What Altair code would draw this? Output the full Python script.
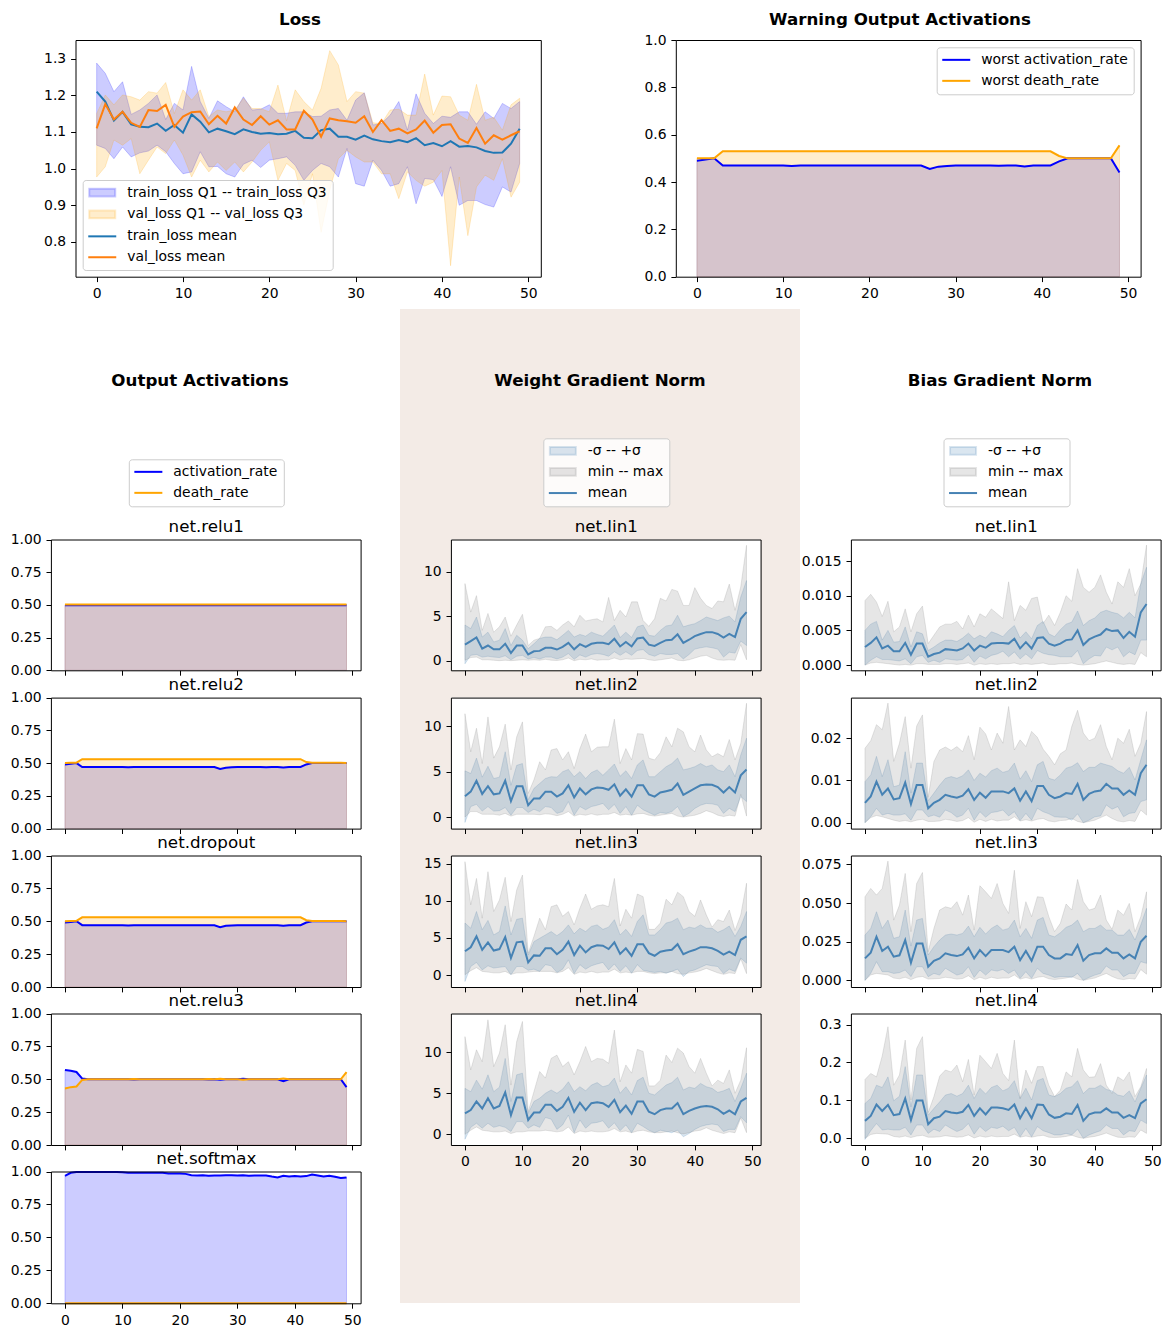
import altair as alt
import pandas as pd

W, H = 1170, 1337
FONT = "DejaVu Sans"
EPOCHS = list(range(50))
XDOM = [-2.45, 51.45]
XTICKS = [0, 10, 20, 30, 40, 50]
BEIGE = "#f3ebe6"
SB = "#4682b4"
LINE_PATH = "M-2.8,0H2.8"
RECT_PATH = "M-2.6,-0.78H2.6V0.78H-2.6Z"

# ---------------- Loss ----------------
train_mean = [1.210,1.183,1.131,1.155,1.121,1.114,1.113,1.123,1.103,1.119,
              1.098,1.148,1.128,1.099,1.109,1.102,1.094,1.107,1.100,1.095,
              1.097,1.094,1.095,1.103,1.084,1.083,1.105,1.109,1.087,1.087,
              1.079,1.090,1.080,1.075,1.072,1.078,1.072,1.083,1.064,1.070,
              1.061,1.075,1.060,1.062,1.058,1.048,1.043,1.044,1.068,1.109]
val_mean = [1.110,1.176,1.134,1.155,1.125,1.114,1.160,1.157,1.174,1.114,
            1.142,1.154,1.156,1.121,1.144,1.123,1.167,1.134,1.119,1.143,
            1.120,1.132,1.107,1.107,1.158,1.134,1.087,1.137,1.132,1.129,
            1.125,1.143,1.100,1.132,1.103,1.109,1.096,1.107,1.131,1.098,
            1.119,1.121,1.082,1.070,1.111,1.068,1.091,1.079,1.091,1.102]
train_q3 = [1.288,1.260,1.210,1.237,1.148,1.160,1.178,1.201,1.134,1.178,
            1.160,1.279,1.183,1.137,1.185,1.169,1.155,1.196,1.160,1.162,
            1.174,1.151,1.151,1.155,1.155,1.142,1.143,1.160,1.164,1.132,
            1.187,1.207,1.119,1.123,1.146,1.183,1.105,1.204,1.151,1.123,
            1.143,1.140,1.155,1.155,1.121,1.155,1.137,1.178,1.164,1.183]
train_q1 = [1.064,1.055,1.027,1.059,1.032,1.043,1.048,1.064,1.046,1.014,
            0.986,0.991,1.046,1.005,1.006,0.986,0.977,1.012,1.023,1.003,
            1.023,1.027,1.032,1.009,0.968,0.995,1.014,1.005,0.977,1.055,
            0.959,0.952,1.023,0.995,0.952,0.959,1.005,0.904,0.973,0.970,
            0.924,1.005,0.900,0.913,0.913,0.902,0.895,0.950,0.936,1.014]
val_q3 = [1.150,1.201,1.174,1.201,1.196,1.187,1.210,1.206,1.235,1.150,
          1.215,1.187,1.215,1.142,1.160,1.155,1.160,1.192,1.164,1.164,
          1.155,1.228,1.130,1.215,1.183,1.160,1.219,1.322,1.283,1.183,
          1.210,1.206,1.125,1.123,1.160,1.162,1.146,1.146,1.258,1.146,
          1.198,1.196,1.146,1.132,1.230,1.132,1.140,1.105,1.174,1.192]
val_q1 = [0.977,1.005,1.078,1.064,1.082,0.986,1.023,1.059,1.041,1.078,
          1.037,0.977,1.023,0.991,1.018,0.995,1.018,0.991,1.018,1.050,
          1.073,0.968,1.014,0.995,0.900,0.986,0.826,0.941,1.027,1.050,
          1.032,1.018,1.018,0.986,0.986,0.918,0.991,0.968,0.952,0.963,
          0.995,0.735,0.977,0.817,0.950,0.982,0.968,1.027,0.922,0.963]

# ---------------- Warning output activations ----------------
worst_act = [0.490,0.495,0.500,0.470,0.470,0.470,0.470,0.470,0.470,0.470,
             0.470,0.468,0.470,0.470,0.470,0.470,0.470,0.470,0.470,0.470,
             0.470,0.470,0.470,0.470,0.470,0.470,0.470,0.455,0.465,0.468,
             0.470,0.470,0.470,0.470,0.470,0.469,0.470,0.470,0.466,0.470,
             0.470,0.470,0.487,0.500,0.500,0.500,0.500,0.500,0.500,0.440]
worst_death = [0.500,0.500,0.500,0.530,0.530,0.530,0.530,0.530,0.530,0.530,
               0.530,0.530,0.530,0.530,0.530,0.530,0.530,0.530,0.530,0.530,
               0.530,0.530,0.530,0.530,0.530,0.530,0.530,0.530,0.530,0.530,
               0.530,0.530,0.530,0.530,0.530,0.530,0.530,0.530,0.530,0.530,
               0.530,0.530,0.510,0.500,0.500,0.500,0.500,0.500,0.500,0.555]

# ---------------- Output activations ----------------
relu1_act = [0.497,0.497,0.497,0.497,0.497,0.497,0.497,0.497,0.497,0.497,
             0.497,0.497,0.497,0.497,0.497,0.497,0.497,0.497,0.497,0.497,
             0.497,0.497,0.497,0.497,0.497,0.497,0.497,0.497,0.497,0.497,
             0.497,0.497,0.497,0.497,0.497,0.497,0.497,0.497,0.497,0.497,
             0.497,0.497,0.497,0.497,0.497,0.497,0.497,0.497,0.497,0.497]
relu1_death = [0.503,0.503,0.503,0.503,0.503,0.503,0.503,0.503,0.503,0.503,
               0.503,0.503,0.503,0.503,0.503,0.503,0.503,0.503,0.503,0.503,
               0.503,0.503,0.503,0.503,0.503,0.503,0.503,0.503,0.503,0.503,
               0.503,0.503,0.503,0.503,0.503,0.503,0.503,0.503,0.503,0.503,
               0.503,0.503,0.503,0.503,0.503,0.503,0.503,0.503,0.503,0.503]
relu2_act = [0.490,0.495,0.500,0.470,0.470,0.470,0.470,0.470,0.470,0.470,
             0.470,0.468,0.470,0.470,0.470,0.470,0.470,0.470,0.470,0.470,
             0.470,0.470,0.470,0.470,0.470,0.470,0.470,0.455,0.465,0.468,
             0.470,0.470,0.470,0.470,0.470,0.469,0.470,0.470,0.466,0.470,
             0.470,0.470,0.490,0.500,0.500,0.500,0.500,0.500,0.500,0.500]
relu2_death = [0.500,0.502,0.503,0.530,0.530,0.530,0.530,0.530,0.530,0.530,
               0.530,0.530,0.530,0.530,0.530,0.530,0.530,0.530,0.530,0.530,
               0.530,0.530,0.530,0.530,0.530,0.530,0.530,0.530,0.530,0.530,
               0.530,0.530,0.530,0.530,0.530,0.530,0.530,0.530,0.530,0.530,
               0.530,0.530,0.508,0.502,0.502,0.502,0.502,0.502,0.502,0.500]
dropout_act = [0.490,0.495,0.500,0.470,0.470,0.470,0.470,0.470,0.470,0.470,
               0.470,0.468,0.470,0.470,0.470,0.470,0.470,0.470,0.470,0.470,
               0.470,0.470,0.470,0.470,0.470,0.470,0.470,0.455,0.465,0.468,
               0.470,0.470,0.470,0.470,0.470,0.469,0.470,0.470,0.466,0.470,
               0.470,0.470,0.490,0.500,0.500,0.500,0.500,0.500,0.500,0.500]
dropout_death = [0.500,0.502,0.503,0.530,0.530,0.530,0.530,0.530,0.530,0.530,
                 0.530,0.530,0.530,0.530,0.530,0.530,0.530,0.530,0.530,0.530,
                 0.530,0.530,0.530,0.530,0.530,0.530,0.530,0.530,0.530,0.530,
                 0.530,0.530,0.530,0.530,0.530,0.530,0.530,0.530,0.530,0.530,
                 0.530,0.530,0.508,0.502,0.502,0.502,0.502,0.502,0.502,0.500]
relu3_act = [0.570,0.565,0.555,0.505,0.500,0.500,0.500,0.500,0.500,0.500,
             0.500,0.500,0.499,0.500,0.500,0.500,0.500,0.500,0.500,0.500,
             0.500,0.500,0.500,0.500,0.500,0.498,0.500,0.497,0.500,0.500,
             0.500,0.503,0.500,0.500,0.500,0.500,0.500,0.500,0.485,0.500,
             0.500,0.500,0.500,0.500,0.500,0.500,0.500,0.500,0.500,0.440]
relu3_death = [0.430,0.440,0.445,0.495,0.500,0.500,0.500,0.500,0.500,0.500,
               0.500,0.500,0.501,0.500,0.500,0.500,0.500,0.500,0.500,0.500,
               0.500,0.500,0.500,0.500,0.500,0.502,0.500,0.503,0.500,0.500,
               0.500,0.497,0.500,0.500,0.500,0.500,0.500,0.500,0.505,0.500,
               0.500,0.500,0.500,0.500,0.500,0.500,0.500,0.500,0.500,0.555]
softmax_act = [0.967,0.990,0.997,0.997,0.997,0.997,0.997,0.997,0.997,0.996,
               0.995,0.990,0.990,0.990,0.991,0.991,0.990,0.990,0.985,0.985,
               0.985,0.982,0.972,0.970,0.972,0.967,0.970,0.970,0.972,0.972,
               0.970,0.972,0.967,0.970,0.970,0.970,0.962,0.955,0.967,0.962,
               0.965,0.962,0.965,0.977,0.970,0.962,0.967,0.960,0.950,0.955]
softmax_death = [0.0,0.0,0.0,0.0,0.0,0.0,0.0,0.0,0.0,0.0,
                 0.0,0.0,0.0,0.0,0.0,0.0,0.0,0.0,0.0,0.0,
                 0.0,0.0,0.0,0.0,0.0,0.0,0.0,0.0,0.0,0.0,
                 0.0,0.0,0.0,0.0,0.0,0.0,0.0,0.0,0.0,0.0,
                 0.0,0.0,0.0,0.0,0.0,0.0,0.0,0.0,0.0,0.0]

# ---------------- Weight gradient norm ----------------
w1_mean = [1.8,2.2,2.6,1.35,1.7,1.27,1.27,1.9,0.86,1.7,
           1.7,0.7,1.05,1.1,1.45,1.45,1.25,1.55,2.0,1.27,
           1.85,1.55,1.9,2.0,2.0,1.85,2.45,1.6,2.1,1.6,
           2.5,2.6,1.8,1.65,2.0,2.3,2.35,2.95,2.0,2.35,
           2.75,3.0,3.2,3.2,3.0,2.6,3.0,2.65,4.7,5.45]
w1_hi = [4.0,3.6,4.9,2.65,3.2,2.1,2.3,3.6,1.7,2.85,
         2.3,1.35,1.9,2.5,2.65,2.65,2.35,2.85,3.4,2.65,
         2.95,2.75,3.2,2.95,2.75,3.35,4.0,2.6,3.2,2.6,
         3.8,4.0,2.85,2.75,3.4,3.9,4.0,5.1,3.8,4.0,
         4.15,4.5,4.9,4.7,4.5,4.8,5.0,4.35,7.15,9.0]
w1_lo = [-0.35,0.6,0.7,0.4,0.5,0.4,0.35,0.55,0.1,0.5,
         0.6,0.2,0.35,0.2,0.4,0.4,0.2,0.4,0.8,0.15,
         0.65,0.4,0.7,0.8,0.7,0.5,1.0,0.6,1.0,0.6,
         1.15,1.25,0.7,0.5,0.8,0.7,0.7,0.8,0.2,0.7,
         1.3,1.45,1.55,1.45,1.3,0.4,0.95,0.85,2.2,1.7]
w1_max = [8.65,5.45,7.3,3.4,5.3,3.2,3.8,4.9,2.75,4.0,
          5.2,1.7,2.3,2.5,3.8,3.85,3.4,4.0,4.45,3.8,
          5.1,4.45,4.6,4.7,4.35,7.1,4.5,5.65,4.9,6.6,
          6.6,4.5,3.85,4.7,7.0,6.7,8.0,7.8,6.2,6.2,
          8.2,7.0,6.2,5.85,6.7,6.6,8.6,5.65,8.3,12.95]
w1_min = [0.05,0.35,0.4,0.1,0.1,0.05,0.0,0.05,0.0,0.05,
          0.1,0.05,0.1,0.05,0.15,0.05,0.02,0.1,0.3,0.0,
          0.15,0.1,0.2,0.05,0.1,0.1,0.3,0.1,0.2,0.15,
          0.2,0.25,0.1,0.02,0.1,0.2,0.3,0.05,0.0,0.1,
          0.3,0.5,0.6,0.3,0.1,0.05,0.1,0.05,1.8,0.1]

w2_mean = [2.3,2.8,4.0,2.55,3.4,2.5,2.6,4.0,1.75,3.4,
           3.4,1.3,2.05,2.05,2.8,2.8,2.25,2.6,3.5,2.15,
           3.15,2.5,3.05,3.25,3.2,3.0,3.6,2.35,3.05,2.25,
           3.5,3.5,2.5,2.25,2.7,2.85,3.0,3.7,2.45,2.8,
           3.15,3.5,3.6,3.55,3.3,2.7,3.3,2.7,4.6,5.25]
w2_hi = [5.1,4.8,6.5,4.4,5.6,4.25,4.4,7.2,3.5,5.7,
         5.9,1.9,3.15,3.7,4.25,4.45,4.4,5.0,5.25,4.45,
         5.0,4.25,4.9,5.2,4.6,5.2,5.85,4.5,5.1,4.25,
         5.75,6.3,4.45,4.45,5.0,5.55,5.9,6.5,5.2,5.35,
         5.55,5.9,5.55,5.75,5.2,5.0,5.75,4.45,6.85,8.7]
w2_lo = [-0.6,1.15,1.4,0.65,1.15,0.65,0.7,1.05,0.2,1.05,
         1.05,0.5,0.85,0.6,1.15,1.05,0.4,0.6,1.7,0.2,
         1.15,0.8,1.15,1.3,1.5,0.8,1.4,0.4,1.15,0.2,
         1.3,0.8,0.5,0.2,0.5,0.4,0.6,1.15,0.05,0.4,
         0.95,1.3,1.5,1.45,1.3,0.4,0.95,0.6,2.25,1.7]
w2_max = [11.4,7.2,9.8,5.9,11.05,6.5,7.75,10.25,5.2,8.85,
          10.5,2.6,4.1,6.1,5.2,7.4,7.55,6.3,7.2,5.35,
          7.55,9.15,7.2,7.7,7.75,7.75,10.8,5.9,7.55,6.3,
          9.2,9.15,6.5,6.3,7.1,8.85,7.75,9.8,9.4,7.75,
          7.2,9.05,7.4,6.65,7.0,6.65,8.55,6.3,8.1,12.55]
w2_min = [0.0,0.6,0.6,0.3,0.3,0.3,0.2,0.4,0.1,0.3,
          0.3,0.3,0.3,0.25,0.35,0.3,0.15,0.3,0.6,0.1,
          0.3,0.2,0.35,0.2,0.3,0.3,0.5,0.2,0.3,0.2,
          0.35,0.4,0.2,0.1,0.2,0.3,0.4,0.1,0.0,0.1,
          0.2,0.4,0.7,0.5,0.2,0.05,0.2,0.1,2.5,0.1]

w3_mean = [3.2,3.75,5.2,3.4,4.4,3.3,3.5,5.1,2.3,4.4,
           4.5,1.7,2.65,2.6,3.6,3.6,2.8,3.4,4.5,2.7,
           3.95,3.05,3.75,4.0,3.95,3.5,4.4,2.85,3.6,2.6,
           4.15,4.15,2.95,2.6,3.15,3.3,3.4,4.15,2.8,3.15,
           3.4,3.75,3.75,3.6,3.25,2.75,3.15,2.7,4.75,5.2]
w3_hi = [7.0,6.3,8.55,6.1,7.35,5.4,5.85,9.3,5.4,7.5,
         7.65,2.7,4.5,4.95,5.4,5.85,5.3,5.85,6.75,5.55,
         6.3,5.85,6.55,6.75,6.15,6.45,7.45,5.4,6.15,5.2,
         7.2,8.1,5.4,5.4,6.1,7.0,7.2,7.65,6.1,6.45,
         6.3,6.75,6.3,6.3,5.75,6.1,6.6,5.2,6.55,8.55]
w3_lo = [-0.85,1.15,1.7,0.7,1.25,0.95,1.05,1.15,0.05,1.15,
         1.15,0.65,0.8,0.5,1.4,1.25,0.35,0.8,2.05,0.2,
         1.4,0.8,1.25,1.5,1.7,0.7,1.5,0.5,1.25,0.25,
         1.4,0.65,0.5,0.35,0.5,0.25,0.5,0.8,-0.2,0.5,
         0.7,1.05,1.4,1.25,1.15,0.2,0.8,0.5,2.3,1.6]
w3_max = [15.25,9.45,13.0,7.65,13.9,8.55,10.1,13.15,7.2,11.45,
          13.45,2.95,5.2,7.65,6.1,9.2,9.45,7.9,8.55,6.75,
          9.0,10.9,8.85,9.3,9.45,9.2,13.0,6.6,8.85,7.65,
          10.9,10.55,6.15,6.15,7.0,10.2,9.45,11.15,10.55,8.55,
          7.9,10.1,8.1,6.45,7.45,7.2,8.75,6.0,8.1,12.35]
w3_min = [0.05,0.6,1.0,0.5,0.4,0.3,0.3,0.5,0.1,0.3,
          0.3,0.4,0.5,0.5,0.5,0.5,0.3,0.5,1.0,0.1,
          0.4,0.3,0.5,0.3,0.4,0.4,0.8,0.3,0.4,0.3,
          0.5,0.5,0.3,0.2,0.3,0.3,0.5,0.2,0.1,0.3,
          0.4,0.6,0.9,0.6,0.3,0.1,0.3,0.2,2.2,0.2]

w4_mean = [2.55,2.95,4.0,3.15,4.4,3.15,3.45,5.1,2.35,4.5,
           4.5,1.75,2.65,2.65,3.6,3.6,2.85,3.35,4.45,2.75,
           3.85,2.95,3.8,3.9,3.8,3.35,4.2,2.7,3.5,2.5,
           4.0,4.0,2.75,2.45,2.95,3.15,3.15,3.8,2.45,2.85,
           3.15,3.35,3.45,3.35,3.05,2.5,2.9,2.45,4.0,4.45]
w4_hi = [5.6,5.2,6.6,5.5,7.25,5.2,5.75,9.25,4.0,7.25,
         7.45,2.55,4.0,4.4,5.0,5.4,5.0,5.5,6.4,5.2,
         5.8,5.3,6.0,6.3,5.8,6.0,6.85,5.0,5.8,4.8,
         6.55,6.95,5.0,4.8,5.4,6.0,6.3,6.95,5.4,5.75,
         5.6,6.2,5.8,5.6,5.1,5.3,5.6,4.0,5.6,7.45]
w4_lo = [-0.6,0.85,1.35,0.75,1.35,0.85,1.05,0.85,0.35,1.55,
         1.55,0.75,1.15,0.85,2.05,1.85,0.6,1.15,2.35,0.2,
         1.75,0.75,1.35,1.45,1.65,0.75,1.4,0.45,1.15,0.2,
         1.35,0.95,0.5,0.2,0.5,0.35,0.2,0.5,-0.3,0.1,
         0.6,0.95,1.15,1.25,1.15,0.35,0.6,0.6,2.15,1.4]
w4_max = [11.9,7.85,10.3,8.85,13.95,8.25,9.9,13.35,6.0,11.3,
          13.75,2.75,5.2,7.65,6.85,9.25,9.65,8.25,8.85,7.25,
          8.85,10.7,8.85,9.25,9.15,8.65,12.7,6.4,8.45,7.45,
          10.35,10.1,5.9,5.9,6.6,9.65,8.75,10.5,9.9,8.25,
          7.45,9.25,7.45,5.9,6.6,6.2,7.85,5.0,6.6,10.55]
w4_min = [0.0,0.5,0.9,0.5,0.4,0.3,0.3,0.4,0.1,0.3,
          0.3,0.4,0.4,0.4,0.5,0.4,0.3,0.4,0.9,0.1,
          0.4,0.3,0.4,0.3,0.3,0.4,0.7,0.3,0.4,0.2,
          0.4,0.5,0.3,0.2,0.2,0.3,0.4,0.2,0.05,0.2,
          0.4,0.5,0.8,0.5,0.3,0.1,0.3,0.2,2.0,0.2]

# ---------------- Bias gradient norm ----------------
b1_mean = [0.0026,0.0032,0.0040,0.0024,0.0028,0.0020,0.0020,0.0032,0.0015,0.0031,
           0.0031,0.0012,0.0016,0.0018,0.0023,0.0022,0.0021,0.0024,0.0031,0.0021,
           0.0028,0.0025,0.0031,0.0032,0.0032,0.0031,0.0038,0.0024,0.0033,0.0024,
           0.0039,0.0040,0.0031,0.0028,0.0031,0.0036,0.0037,0.0050,0.0029,0.0037,
           0.0041,0.0044,0.0052,0.0049,0.0050,0.0039,0.0048,0.0041,0.0076,0.0088]
b1_hi = [0.0050,0.0059,0.0063,0.0036,0.0050,0.0033,0.0034,0.0055,0.0026,0.0048,
         0.0045,0.0021,0.0026,0.0032,0.0036,0.0036,0.0034,0.0039,0.0046,0.0038,
         0.0043,0.0039,0.0048,0.0045,0.0041,0.0050,0.0057,0.0039,0.0048,0.0038,
         0.0057,0.0063,0.0045,0.0041,0.0051,0.0059,0.0062,0.0078,0.0057,0.0064,
         0.0068,0.0076,0.0079,0.0076,0.0074,0.0068,0.0076,0.0068,0.0117,0.0141]
b1_lo = [0.0000,0.0007,0.0012,0.0008,0.0008,0.0007,0.0006,0.0009,0.0002,0.0012,
         0.0014,0.0004,0.0007,0.0004,0.0009,0.0008,0.0007,0.0008,0.0015,0.0004,
         0.0013,0.0009,0.0014,0.0016,0.0020,0.0012,0.0019,0.0009,0.0016,0.0009,
         0.0021,0.0017,0.0015,0.0014,0.0012,0.0012,0.0012,0.0021,0.0002,0.0009,
         0.0014,0.0013,0.0026,0.0022,0.0026,0.0012,0.0019,0.0015,0.0036,0.0036]
b1_max = [0.0093,0.0102,0.0091,0.0070,0.0092,0.0048,0.0055,0.0081,0.0048,0.0074,
          0.0085,0.0031,0.0043,0.0055,0.0059,0.0059,0.0063,0.0052,0.0072,0.0055,
          0.0074,0.0069,0.0081,0.0074,0.0067,0.0120,0.0064,0.0086,0.0079,0.0096,
          0.0098,0.0060,0.0072,0.0057,0.0076,0.0100,0.0092,0.0139,0.0112,0.0105,
          0.0112,0.0130,0.0105,0.0088,0.0120,0.0112,0.0139,0.0100,0.0117,0.0173]
b1_min = [0.0000,0.0003,0.0004,0.0003,0.0002,0.0001,0.0000,0.0001,0.0000,0.0002,
          0.0002,0.0001,0.0001,0.0001,0.0002,0.0002,0.0001,0.0002,0.0003,0.0000,
          0.0002,0.0001,0.0002,0.0001,0.0002,0.0002,0.0003,0.0001,0.0002,0.0001,
          0.0002,0.0003,0.0001,0.0001,0.0002,0.0002,0.0003,0.0001,0.0000,0.0001,
          0.0002,0.0004,0.0006,0.0004,0.0002,0.0001,0.0002,0.0001,0.0018,0.0012]

b2_mean = [0.0047,0.0062,0.0097,0.0066,0.0081,0.0055,0.0058,0.0095,0.0044,0.0089,
           0.0089,0.0034,0.0047,0.0054,0.0066,0.0062,0.0059,0.0064,0.0079,0.0054,
           0.0071,0.0059,0.0074,0.0074,0.0074,0.0070,0.0081,0.0052,0.0074,0.0051,
           0.0087,0.0087,0.0066,0.0058,0.0062,0.0070,0.0068,0.0092,0.0054,0.0068,
           0.0074,0.0076,0.0092,0.0081,0.0081,0.0066,0.0076,0.0066,0.0117,0.0137]
b2_hi = [0.0097,0.0113,0.0157,0.0109,0.0149,0.0085,0.0089,0.0168,0.0070,0.0141,
         0.0141,0.0052,0.0070,0.0089,0.0105,0.0109,0.0105,0.0111,0.0125,0.0100,
         0.0117,0.0108,0.0123,0.0129,0.0119,0.0123,0.0141,0.0103,0.0123,0.0097,
         0.0137,0.0145,0.0105,0.0101,0.0113,0.0129,0.0133,0.0142,0.0121,0.0131,
         0.0131,0.0141,0.0137,0.0133,0.0123,0.0117,0.0131,0.0101,0.0149,0.0196]
b2_lo = [0.0000,0.0014,0.0034,0.0018,0.0022,0.0018,0.0018,0.0021,0.0006,0.0030,
         0.0030,0.0014,0.0018,0.0013,0.0030,0.0024,0.0013,0.0018,0.0034,0.0006,
         0.0026,0.0013,0.0024,0.0026,0.0030,0.0016,0.0026,0.0005,0.0022,0.0006,
         0.0034,0.0026,0.0021,0.0014,0.0013,0.0013,0.0006,0.0021,0.0000,0.0006,
         0.0014,0.0016,0.0042,0.0032,0.0038,0.0014,0.0022,0.0024,0.0050,0.0054]
b2_max = [0.0176,0.0194,0.0232,0.0220,0.0283,0.0145,0.0188,0.0251,0.0129,0.0229,
          0.0255,0.0060,0.0145,0.0172,0.0179,0.0171,0.0180,0.0168,0.0206,0.0149,
          0.0226,0.0210,0.0172,0.0212,0.0188,0.0275,0.0172,0.0196,0.0180,0.0216,
          0.0202,0.0174,0.0157,0.0137,0.0163,0.0172,0.0228,0.0266,0.0212,0.0194,
          0.0200,0.0232,0.0180,0.0149,0.0200,0.0188,0.0221,0.0157,0.0188,0.0263]
b2_min = [0.0000,0.0012,0.0017,0.0014,0.0010,0.0006,0.0003,0.0005,0.0002,0.0006,
          0.0008,0.0003,0.0003,0.0004,0.0008,0.0006,0.0003,0.0005,0.0012,0.0001,
          0.0008,0.0003,0.0008,0.0004,0.0006,0.0006,0.0014,0.0004,0.0007,0.0004,
          0.0008,0.0010,0.0004,0.0002,0.0005,0.0006,0.0010,0.0003,0.0000,0.0003,
          0.0006,0.0012,0.0018,0.0010,0.0004,0.0002,0.0005,0.0003,0.0030,0.0018]

b3_mean = [0.0142,0.0179,0.0282,0.0190,0.0218,0.0153,0.0162,0.0261,0.0114,0.0239,
           0.0239,0.0088,0.0127,0.0142,0.0175,0.0164,0.0157,0.0168,0.0211,0.0142,
           0.0196,0.0157,0.0196,0.0196,0.0196,0.0183,0.0218,0.0131,0.0190,0.0127,
           0.0218,0.0218,0.0164,0.0142,0.0142,0.0170,0.0164,0.0228,0.0127,0.0164,
           0.0175,0.0175,0.0207,0.0179,0.0179,0.0142,0.0168,0.0142,0.0250,0.0289]
b3_hi = [0.0293,0.0336,0.0444,0.0336,0.0390,0.0272,0.0282,0.0455,0.0222,0.0390,
         0.0401,0.0164,0.0218,0.0261,0.0293,0.0300,0.0293,0.0304,0.0351,0.0282,
         0.0343,0.0300,0.0336,0.0358,0.0325,0.0336,0.0390,0.0282,0.0336,0.0272,
         0.0390,0.0407,0.0293,0.0282,0.0308,0.0343,0.0358,0.0390,0.0315,0.0336,
         0.0336,0.0358,0.0325,0.0325,0.0293,0.0293,0.0330,0.0261,0.0358,0.0466]
b3_lo = [0.0000,0.0045,0.0121,0.0056,0.0056,0.0045,0.0050,0.0067,0.0024,0.0088,
         0.0088,0.0024,0.0045,0.0034,0.0078,0.0056,0.0034,0.0045,0.0088,0.0019,
         0.0067,0.0034,0.0067,0.0060,0.0071,0.0045,0.0067,0.0013,0.0056,0.0013,
         0.0078,0.0045,0.0034,0.0019,0.0024,0.0024,0.0019,0.0045,0.0000,0.0019,
         0.0034,0.0045,0.0093,0.0067,0.0067,0.0024,0.0045,0.0045,0.0121,0.0110]
b3_max = [0.0541,0.0595,0.0552,0.0595,0.0772,0.0390,0.0487,0.0692,0.0315,0.0627,
          0.0698,0.0185,0.0336,0.0455,0.0476,0.0466,0.0509,0.0422,0.0552,0.0325,
          0.0612,0.0573,0.0530,0.0627,0.0498,0.0433,0.0713,0.0336,0.0509,0.0412,
          0.0541,0.0537,0.0412,0.0315,0.0369,0.0494,0.0455,0.0653,0.0509,0.0455,
          0.0466,0.0552,0.0390,0.0330,0.0455,0.0422,0.0498,0.0315,0.0412,0.0573]
b3_min = [0.0000,0.0035,0.0045,0.0040,0.0035,0.0015,0.0010,0.0020,0.0005,0.0020,
          0.0025,0.0008,0.0010,0.0012,0.0020,0.0015,0.0008,0.0012,0.0030,0.0004,
          0.0020,0.0008,0.0020,0.0012,0.0015,0.0015,0.0035,0.0008,0.0018,0.0008,
          0.0020,0.0025,0.0010,0.0005,0.0010,0.0015,0.0025,0.0008,0.0000,0.0008,
          0.0015,0.0030,0.0045,0.0025,0.0010,0.0005,0.0012,0.0008,0.0070,0.0040]

b4_mean = [0.046,0.059,0.089,0.072,0.088,0.061,0.064,0.105,0.048,0.100,
           0.100,0.037,0.053,0.057,0.072,0.068,0.066,0.070,0.088,0.059,
           0.079,0.063,0.081,0.081,0.079,0.075,0.089,0.053,0.079,0.053,
           0.089,0.088,0.063,0.054,0.057,0.066,0.064,0.088,0.046,0.063,
           0.068,0.068,0.079,0.068,0.068,0.054,0.061,0.053,0.092,0.103]
b4_hi = [0.092,0.105,0.140,0.134,0.162,0.099,0.111,0.189,0.083,0.167,
         0.167,0.061,0.079,0.096,0.114,0.118,0.111,0.118,0.140,0.105,
         0.132,0.117,0.134,0.140,0.125,0.132,0.152,0.105,0.132,0.101,
         0.152,0.158,0.114,0.110,0.118,0.132,0.136,0.152,0.118,0.132,
         0.132,0.140,0.129,0.125,0.114,0.111,0.125,0.096,0.132,0.167]
b4_lo = [-0.003,0.020,0.039,0.022,0.024,0.022,0.022,0.029,0.009,0.035,
         0.035,0.013,0.024,0.018,0.035,0.026,0.018,0.024,0.039,0.011,
         0.031,0.018,0.029,0.026,0.032,0.020,0.029,0.004,0.026,0.004,
         0.031,0.020,0.015,0.009,0.009,0.013,0.009,0.024,0.000,0.009,
         0.015,0.020,0.035,0.026,0.026,0.009,0.020,0.018,0.048,0.039]
b4_max = [0.155,0.171,0.162,0.217,0.294,0.140,0.167,0.259,0.101,0.237,
          0.268,0.068,0.110,0.164,0.180,0.175,0.193,0.149,0.208,0.114,
          0.219,0.202,0.184,0.224,0.171,0.152,0.259,0.105,0.180,0.145,
          0.189,0.189,0.140,0.110,0.127,0.175,0.162,0.237,0.180,0.161,
          0.162,0.197,0.140,0.118,0.162,0.152,0.175,0.110,0.136,0.184]
b4_min = [0.000,0.010,0.013,0.012,0.011,0.005,0.003,0.006,0.002,0.006,
          0.008,0.003,0.003,0.004,0.007,0.005,0.003,0.004,0.009,0.001,
          0.006,0.003,0.006,0.004,0.005,0.005,0.011,0.003,0.006,0.003,
          0.006,0.008,0.003,0.002,0.003,0.005,0.008,0.003,0.000,0.003,
          0.005,0.009,0.014,0.008,0.003,0.002,0.004,0.003,0.022,0.013]

LOSS_LABELS = ["train_loss Q1 -- train_loss Q3", "val_loss Q1 -- val_loss Q3",
               "train_loss mean", "val_loss mean"]
WARN_LABELS = ["worst activation_rate", "worst death_rate"]
ACT_LABELS = ["activation_rate", "death_rate"]
GRAD_LABELS = ["-σ -- +σ", "min -- max", "mean"]
LAYER_NAMES_ACT = ["net.relu1", "net.relu2", "net.dropout", "net.relu3", "net.softmax"]
LAYER_NAMES_LIN = ["net.lin1", "net.lin2", "net.lin3", "net.lin4"]

# ---------------- layout helpers ----------------
ROW_T = [539.5, 697.6, 855.5, 1013.5, 1171.5]
ROW_B = [670.3, 828.6, 987.0, 1145.0, 1303.3]
COL_L = [50.9, 450.9, 850.9]
COL_R = [360.6, 760.6, 1160.6]


def xsc(l, r):
    return alt.Scale(domain=XDOM, range=[l, r], nice=False, zero=False)


def ysc(dom, top, bot):
    return alt.Scale(domain=dom, range=[bot, top], nice=False, zero=False)


def ax_b(bot, labels=True):
    return alt.Axis(orient="bottom", offset=bot - H, values=XTICKS, format="d", labels=labels,
                    title=None, grid=False, labelFlush=False, labelOverlap=False, zindex=2)


def ax_l(left, vals, fmt):
    return alt.Axis(orient="left", offset=-left, values=vals, format=fmt, title=None, grid=False,
                    labelFlush=False, labelOverlap=False, zindex=2)


def ax_t(top, title=None):
    if title:
        return alt.Axis(orient="top", offset=-top, labels=False, ticks=False, grid=False,
                        title=title, titleY=-8.3, titleBaseline="alphabetic", zindex=2)
    return alt.Axis(orient="top", offset=-top, labels=False, ticks=False, grid=False, title=None, zindex=2)


def ax_r(right):
    return alt.Axis(orient="right", offset=right - W, labels=False, ticks=False, grid=False,
                    title=None, zindex=2)


def mk_legend(x, y, patch_fills=None, row_pad=6.0):
    kw = dict(orient="none", legendX=x, legendY=y, title=None, symbolType=LINE_PATH,
              symbolSize=100, symbolStrokeWidth=2, symbolOffset=7, labelFont=FONT, labelFontSize=13.9,
              labelColor="black", labelLimit=500, labelOffset=18, padding=5.6, rowPadding=row_pad,
              fillColor="rgba(255,255,255,0.8)", strokeColor="#cccccc", cornerRadius=3, zindex=3)
    if patch_fills:
        n = len(patch_fills)
        fill_expr = " : ".join(f"datum.index == {i} ? '{c}'" for i, c in enumerate(patch_fills)) + " : 'transparent'"
        kw["symbolType"] = alt.ExprRef(expr=f"datum.index < {n} ? '{RECT_PATH}' : '{LINE_PATH}'")
        kw["symbolFillColor"] = alt.ExprRef(expr=fill_expr)
    return alt.Legend(**kw)


def heading(txt, x, y):
    return alt.Chart(pd.DataFrame({"t": [txt]})).mark_text(
        font=FONT, fontSize=16.7, fontWeight="bold", color="black", align="center", baseline="alphabetic"
    ).encode(x=alt.value(x), y=alt.value(y), text="t:N")


layers = []

# background of middle column
layers.append(alt.Chart(pd.DataFrame({"k": [0]})).mark_rect(fill=BEIGE).encode(
    x=alt.value(400), x2=alt.value(800), y=alt.value(309), y2=alt.value(1303)))

# headings
layers += [heading("Loss", 300, 24.5), heading("Warning Output Activations", 900, 24.5),
           heading("Output Activations", 200, 386), heading("Weight Gradient Norm", 600, 386),
           heading("Bias Gradient Norm", 1000, 386)]

# ---------------- Loss panel ----------------
LL, LR, LT, LB = 75.5, 540.8, 40.0, 276.7
lx, ly = xsc(LL, LR), ysc([0.705, 1.351], LT, LB)
df_tr = pd.DataFrame({"epoch": EPOCHS, "q1": train_q1, "q3": train_q3})
df_va = pd.DataFrame({"epoch": EPOCHS, "q1": val_q1, "q3": val_q3})
layers.append(alt.Chart(df_tr).mark_area(fill="blue", fillOpacity=0.2, stroke="blue", strokeOpacity=0.2,
                                         strokeWidth=1).encode(
    x=alt.X("epoch:Q", scale=lx, axis=ax_b(LB)),
    y=alt.Y("q1:Q", scale=ly, axis=ax_l(LL, [0.8, 0.9, 1.0, 1.1, 1.2, 1.3], ".1f")),
    y2="q3:Q"))
layers.append(alt.Chart(df_va).mark_area(fill="orange", fillOpacity=0.2, stroke="orange", strokeOpacity=0.2,
                                         strokeWidth=1).encode(
    x=alt.X("epoch:Q", scale=lx, axis=None), y=alt.Y("q1:Q", scale=ly, axis=None), y2="q3:Q"))
df_lm = pd.DataFrame({"epoch": EPOCHS + EPOCHS, "v": train_mean + val_mean,
                      "series": [LOSS_LABELS[2]] * 50 + [LOSS_LABELS[3]] * 50})
loss_leg = mk_legend(82.7, 180, ["rgba(0,0,255,0.2)", "rgba(255,165,0,0.2)"], row_pad=5.9)
layers.append(alt.Chart(df_lm).mark_line().encode(
    x=alt.X("epoch:Q", scale=lx, axis=ax_t(LT)),
    y=alt.Y("v:Q", scale=ly, axis=ax_r(LR)),
    strokeWidth=alt.value(2),
    color=alt.Color("series:N",
                    scale=alt.Scale(domain=LOSS_LABELS,
                                    range=["rgba(0,0,255,0.2)", "rgba(255,165,0,0.2)", "#1f77b4", "#ff7f0e"]),
                    legend=loss_leg)))


# ---------------- activation style panels ----------------
def act_panel(l, r, top, bot, act, death, labels, yvals, yfmt, xlabels=True, title=None, legend=None):
    xs, ys = xsc(l, r), ysc([0, 1], top, bot)
    df = pd.DataFrame({"epoch": EPOCHS + EPOCHS, "v": act + death,
                       "series": [labels[0]] * 50 + [labels[1]] * 50})
    cscale = alt.Scale(domain=labels, range=["blue", "orange"])
    area = alt.Chart(df).mark_area(fillOpacity=0.2, strokeOpacity=0.2, strokeWidth=1).encode(
        x=alt.X("epoch:Q", scale=xs, axis=ax_b(bot, xlabels)),
        y=alt.Y("v:Q", scale=ys, axis=ax_l(l, yvals, yfmt), stack=None),
        y2=alt.datum(0),
        color=alt.Color("series:N", scale=cscale, legend=None),
        stroke=alt.Stroke("series:N", scale=cscale, legend=None))
    line = alt.Chart(df).mark_line(strokeWidth=2).encode(
        x=alt.X("epoch:Q", scale=xs, axis=ax_t(top, title)),
        y=alt.Y("v:Q", scale=ys, axis=ax_r(r)),
        color=alt.Color("series:N", scale=cscale, legend=legend))
    return [area, line]


layers += act_panel(675.8, 1140.6, 40.0, 276.7, worst_act, worst_death, WARN_LABELS,
                    [0, 0.2, 0.4, 0.6, 0.8, 1.0], ".1f", True, None, mk_legend(936.7, 47.3))

act_series = [(relu1_act, relu1_death), (relu2_act, relu2_death), (dropout_act, dropout_death),
              (relu3_act, relu3_death), (softmax_act, softmax_death)]
for i, (a, d) in enumerate(act_series):
    layers += act_panel(COL_L[0], COL_R[0], ROW_T[i], ROW_B[i], a, d, ACT_LABELS,
                        [0, 0.25, 0.5, 0.75, 1.0], ".2f", i == 4, LAYER_NAMES_ACT[i],
                        mk_legend(128.8, 459.3) if i == 0 else None)


# ---------------- gradient panels ----------------
def grad_panel(col, row, dom, yvals, yfmt, mn, mx, lo, hi, mean, legend=None):
    l, r, top, bot = COL_L[col], COL_R[col], ROW_T[row], ROW_B[row]
    xs, ys = xsc(l, r), ysc(dom, top, bot)
    out = []
    if col == 1:
        # white plot background over the tinted column
        out.append(alt.Chart(pd.DataFrame({"k": [0]})).mark_rect(fill="white").encode(
            x=alt.XDatum(XDOM[0], scale=xs, axis=None), x2=alt.X2Datum(XDOM[1]),
            y=alt.YDatum(dom[0], scale=ys, axis=None), y2=alt.Y2Datum(dom[1])))
    df = pd.DataFrame({"epoch": EPOCHS, "mn": mn, "mx": mx, "lo": lo, "hi": hi, "mean": mean,
                       "series": ["mean"] * 50})
    sig = alt.Chart(df).mark_area(fill=SB, fillOpacity=0.2, stroke=SB, strokeOpacity=0.2, strokeWidth=1).encode(
        x=alt.X("epoch:Q", scale=xs, axis=ax_b(bot, row == 3)),
        y=alt.Y("lo:Q", scale=ys, axis=ax_l(l, yvals, yfmt)),
        y2="hi:Q")
    mm = alt.Chart(df).mark_area(fill="gray", fillOpacity=0.2, stroke="gray", strokeOpacity=0.2,
                                 strokeWidth=1).encode(
        x=alt.X("epoch:Q", scale=xs, axis=None),
        y=alt.Y("mn:Q", scale=ys, axis=None),
        y2="mx:Q")
    if legend is not None:
        color = alt.Color("series:N",
                          scale=alt.Scale(domain=GRAD_LABELS,
                                          range=["rgba(70,130,180,0.2)", "rgba(128,128,128,0.2)", SB]),
                          legend=legend)
    else:
        color = alt.value(SB)
    ln = alt.Chart(df).mark_line().encode(
        x=alt.X("epoch:Q", scale=xs, axis=ax_t(top, LAYER_NAMES_LIN[row])),
        y=alt.Y("mean:Q", scale=ys, axis=ax_r(r)),
        strokeWidth=alt.value(2),
        color=color)
    return out + [sig, mm, ln]


GRAD_FILLS = ["rgba(70,130,180,0.2)", "rgba(128,128,128,0.2)"]

layers += grad_panel(1, 0, [-1.08, 13.6], [0, 5, 10], "d", w1_min, w1_max, w1_lo, w1_hi, w1_mean,
                     mk_legend(543.3, 438.3, GRAD_FILLS, row_pad=5.1))
layers += grad_panel(1, 1, [-1.28, 13.18], [0, 5, 10], "d", w2_min, w2_max, w2_lo, w2_hi, w2_mean)
layers += grad_panel(1, 2, [-1.6, 16.08], [0, 5, 10, 15], "d", w3_min, w3_max, w3_lo, w3_hi, w3_mean)
layers += grad_panel(1, 3, [-1.3, 14.72], [0, 5, 10], "d", w4_min, w4_max, w4_lo, w4_hi, w4_mean)

layers += grad_panel(2, 0, [-0.00075, 0.0181], [0, 0.005, 0.010, 0.015], ".3f",
                     b1_min, b1_max, b1_lo, b1_hi, b1_mean, mk_legend(943.5, 438.3, GRAD_FILLS, row_pad=5.1))
layers += grad_panel(2, 1, [-0.0014, 0.0296], [0, 0.01, 0.02], ".2f", b2_min, b2_max, b2_lo, b2_hi, b2_mean)
layers += grad_panel(2, 2, [-0.0043, 0.0808], [0, 0.025, 0.05, 0.075], ".3f",
                     b3_min, b3_max, b3_lo, b3_hi, b3_mean)
layers += grad_panel(2, 3, [-0.0176, 0.329], [0, 0.1, 0.2, 0.3], ".1f", b4_min, b4_max, b4_lo, b4_hi, b4_mean)

chart = alt.layer(*layers).resolve_scale(
    x="independent", y="independent", color="independent", stroke="independent"
).resolve_axis(
    x="independent", y="independent"
).resolve_legend(
    color="independent", stroke="independent"
).properties(
    width=W, height=H, padding=0, autosize=alt.AutoSizeParams(type="none"), background="white"
).configure_view(
    stroke=None
).configure_axis(
    domainColor="black", domainWidth=1, tickColor="black", tickWidth=1, tickSize=4.9,
    labelFont=FONT, labelFontSize=13.9, labelColor="black", labelPadding=4.9,
    titleFont=FONT, titleFontSize=16.7, titleFontWeight="normal", titleColor="black",
    grid=False
).configure_legend(
    strokeWidth=1
)

chart.save("out.html", embed_options={"renderer": "svg", "actions": False})
